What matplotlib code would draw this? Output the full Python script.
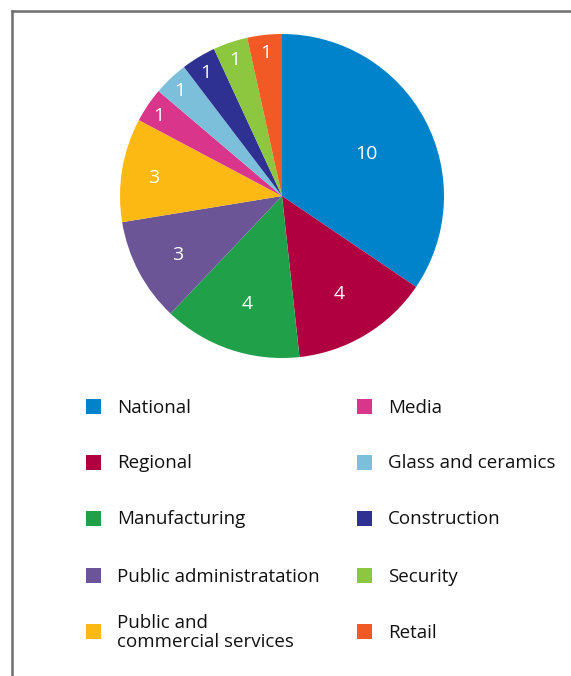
import matplotlib
matplotlib.use('Agg')
import matplotlib.pyplot as plt
import numpy as np
from matplotlib.patches import Rectangle
from matplotlib.lines import Line2D

plt.rcParams['font.family'] = ['Open Sans', 'DejaVu Sans']

W, H = 571, 676

sectors = ['National', 'Regional', 'Manufacturing', 'Public administratation',
           'Public and\ncommercial services', 'Media', 'Glass and ceramics',
           'Construction', 'Security', 'Retail']
counts = [10, 4, 4, 3, 3, 1, 1, 1, 1, 1]
colors = ['#0083ca', '#b0003f', '#21a04a', '#6c5597', '#fdb913',
          '#d9368b', '#7bbfdb', '#2e3192', '#8dc63f', '#f15a24']
# how far out each count label sits (fraction of radius)
label_r = [0.59, 0.68, 0.68, 0.73, 0.80, 0.92, 0.92, 0.91, 0.91, 0.91]


def px(x, y):
    # pixel coords (top-left origin) -> figure fraction
    return x / W, 1 - y / H


fig = plt.figure(figsize=(W / 100, H / 100), dpi=100)

# pie, centre at (282, 196) px, radius 162 px
cx, cy, r = 282, 196, 162
ax = fig.add_axes([(cx - r) / W, 1 - (cy + r) / H, 2 * r / W, 2 * r / H])
wedges, _ = ax.pie(counts, colors=colors, startangle=90, counterclock=False,
                   radius=1, wedgeprops=dict(linewidth=0))
ax.set_xlim(-1, 1)
ax.set_ylim(-1, 1)
ax.set_aspect('equal')
ax.axis('off')

for w, n, lr in zip(wedges, counts, label_r):
    ang = np.deg2rad((w.theta1 + w.theta2) / 2)
    ax.text(lr * np.cos(ang), lr * np.sin(ang) - 0.02, str(n), color='white',
            fontsize=14, ha='center', va='center')

# frame lines on the left and top
fx, fy = px(12, 11)
fig.add_artist(Line2D([fx, fx], [0, fy], transform=fig.transFigure,
                      color='#6e6e6e', lw=1.8))
fig.add_artist(Line2D([fx, 1], [fy, fy], transform=fig.transFigure,
                      color='#6e6e6e', lw=1.8))

# legend in two columns
rows = [406, 462, 518, 575, 631]
cols = [(86, 117), (357, 388)]
for i, (name, c) in enumerate(zip(sectors, colors)):
    sx, tx = cols[i // 5]
    yc = rows[i % 5]
    x0, y0 = px(sx, yc + 7.5)
    fig.add_artist(Rectangle((x0, y0), 15 / W, 15 / H, transform=fig.transFigure,
                             facecolor=c, edgecolor='none'))
    tx0, ty0 = px(tx, yc + 1.5)
    fig.text(tx0, ty0, name, fontsize=13.5, color='#111111', ha='left',
             va='center', linespacing=1.12)

fig.savefig('out.png', dpi=100)
